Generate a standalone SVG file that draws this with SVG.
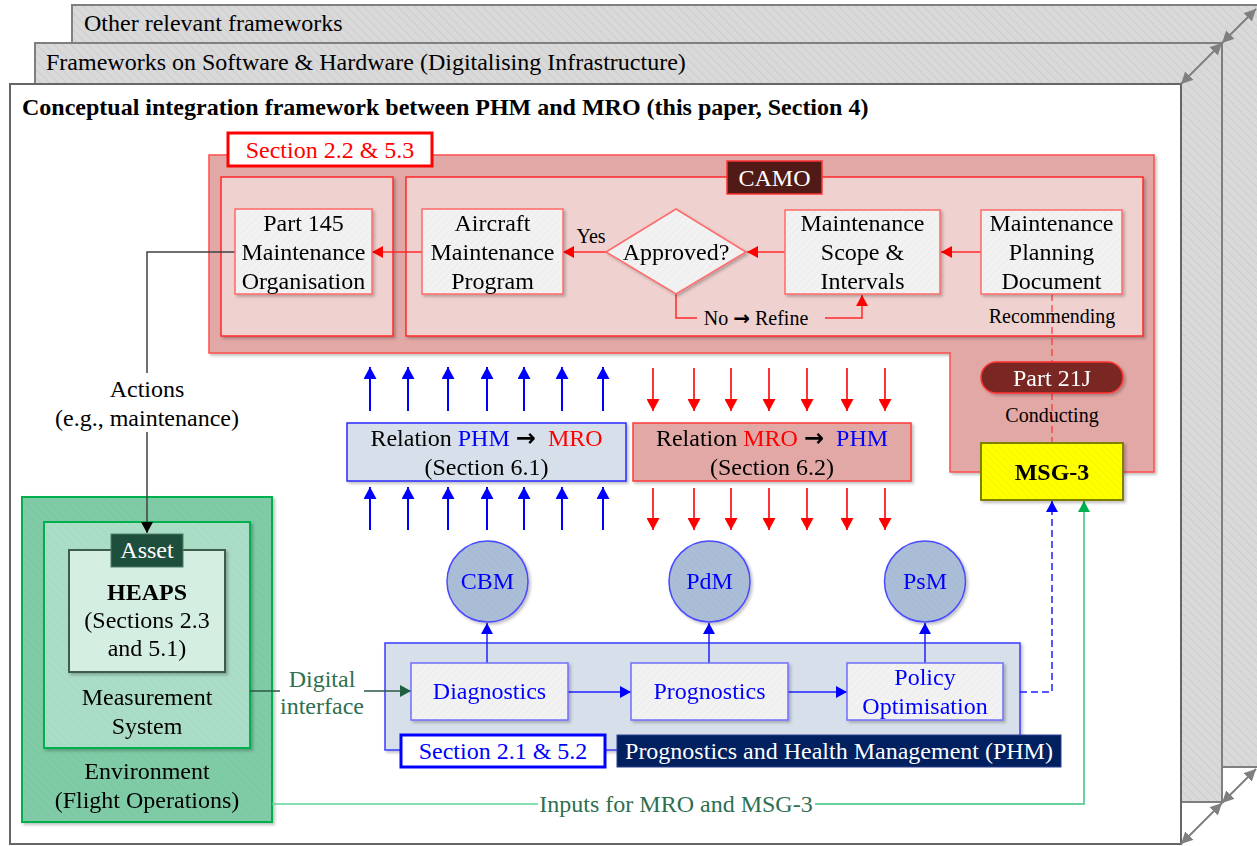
<svg xmlns="http://www.w3.org/2000/svg" width="1257" height="846" viewBox="0 0 1257 846">
<style>
.t{font-family:"Liberation Serif","Times New Roman",serif;font-size:24px;text-anchor:middle;fill:#000}
.st{text-anchor:start}
.s{font-size:20px}
.b{font-weight:bold}
.w{fill:#fff}
.bl{fill:#0000ff}
.rd{fill:#ff0000}
.gt{fill:#2e6f4f}
.ar{font-family:"DejaVu Sans",sans-serif;font-weight:bold;fill:#000}
.node{fill:url(#pNode);stroke:#ff6b6b;stroke-width:1.5}
.pnode{fill:url(#pNode);stroke:#6f6fff;stroke-width:1.5}
.frame{fill:url(#pFrame);stroke:#7f7f7f;stroke-width:2}
.red{fill:none;stroke:#ff2a2a;stroke-width:1.5}
.blue{fill:none;stroke:#2020ff;stroke-width:1.5}
.relb{fill:none;stroke:#0000ff;stroke-width:2}
.relr{fill:none;stroke:#ff0000;stroke-width:1.6}
</style>
<defs>
<pattern id="pFrame" width="6" height="6" patternUnits="userSpaceOnUse" patternTransform="rotate(-45)"><rect width="6" height="6" fill="#d9d9d9"/><line x1="0" y1="0" x2="0" y2="6" stroke="#c6c6c6" stroke-width="1.2"/></pattern>
<pattern id="pNode" width="5" height="5" patternUnits="userSpaceOnUse" patternTransform="rotate(45)"><rect width="5" height="5" fill="#f2f2f2"/><line x1="0" y1="0" x2="0" y2="5" stroke="#e6e6e6" stroke-width="1"/></pattern>
<pattern id="pEnv" width="6" height="6" patternUnits="userSpaceOnUse" patternTransform="rotate(-45)"><rect width="6" height="6" fill="#7dcaa5"/><line x1="0" y1="0" x2="0" y2="6" stroke="#8bd0ae" stroke-width="1.2"/></pattern>
<pattern id="pMeas" width="6" height="6" patternUnits="userSpaceOnUse" patternTransform="rotate(-45)"><rect width="6" height="6" fill="#a8dcc4"/><line x1="0" y1="0" x2="0" y2="6" stroke="#b5e2cd" stroke-width="1.2"/></pattern>
<pattern id="pYel" width="5" height="5" patternUnits="userSpaceOnUse" patternTransform="rotate(-45)"><rect width="5" height="5" fill="#ffff00"/><line x1="0" y1="0" x2="0" y2="5" stroke="#eded00" stroke-width="1"/></pattern>
<pattern id="pCirc" width="5" height="5" patternUnits="userSpaceOnUse" patternTransform="rotate(-45)"><rect width="5" height="5" fill="#a9bcd6"/><line x1="0" y1="0" x2="0" y2="5" stroke="#b3c4db" stroke-width="1"/></pattern>
<filter id="sh" x="-10%" y="-10%" width="130%" height="130%"><feDropShadow dx="2" dy="2" stdDeviation="1.5" flood-color="#000" flood-opacity="0.25"/></filter>
<marker id="aR" markerUnits="userSpaceOnUse" markerWidth="11" markerHeight="12" refX="11" refY="6" orient="auto"><path d="M0,0 L11,6 L0,12 z" fill="#ff0000"/></marker>
<marker id="aB" markerUnits="userSpaceOnUse" markerWidth="11" markerHeight="12" refX="11" refY="6" orient="auto"><path d="M0,0 L11,6 L0,12 z" fill="#0000ff"/></marker>
<marker id="aRB" markerUnits="userSpaceOnUse" markerWidth="12" markerHeight="13" refX="12" refY="6.5" orient="auto"><path d="M0,0 L12,6.5 L0,13 z" fill="#ff0000"/></marker>
<marker id="aBB" markerUnits="userSpaceOnUse" markerWidth="12" markerHeight="13" refX="12" refY="6.5" orient="auto"><path d="M0,0 L12,6.5 L0,13 z" fill="#0000ff"/></marker>
<marker id="aK" markerUnits="userSpaceOnUse" markerWidth="11" markerHeight="12" refX="11" refY="6" orient="auto"><path d="M0,0 L11,6 L0,12 z" fill="#000"/></marker>
<marker id="aDG" markerUnits="userSpaceOnUse" markerWidth="11" markerHeight="12" refX="11" refY="6" orient="auto"><path d="M0,0 L11,6 L0,12 z" fill="#1f5e42"/></marker>
<marker id="aG" markerUnits="userSpaceOnUse" markerWidth="11" markerHeight="12" refX="11" refY="6" orient="auto"><path d="M0,0 L11,6 L0,12 z" fill="#00b050"/></marker>
<marker id="aGr" markerUnits="userSpaceOnUse" markerWidth="12" markerHeight="12" refX="12" refY="6" orient="auto-start-reverse"><path d="M0,0 L12,6 L0,12 z" fill="#7f7f7f"/></marker>
</defs>

<!-- stacked frames -->
<g id="frame-other">
<rect class="frame" x="72" y="5" width="1200" height="762"/>
<text class="t st" x="84" y="31">Other relevant frameworks</text>
</g>
<g id="frame-software">
<rect class="frame" x="35" y="43" width="1187" height="759"/>
<text class="t st" x="46" y="70">Frameworks on Software &amp; Hardware (Digitalising Infrastructure)</text>
</g>
<g id="frame-main">
<rect x="10" y="84" width="1171" height="760" fill="#fff" stroke="#666" stroke-width="2"/>
<text class="t st b" x="22" y="115">Conceptual integration framework between PHM and MRO (this paper, Section 4)</text>
</g>

<!-- containers -->
<g id="mro-region" filter="url(#sh)">
<polygon points="209,155 1154,155 1154,472 950,472 950,353 209,353" fill="#e2a8a5" stroke="#ff4d4d" stroke-width="1.5"/>
</g>
<g id="part145-container" filter="url(#sh)">
<rect x="221" y="177" width="172" height="159" fill="#efd2d0" stroke="#ff2a2a" stroke-width="1.5"/>
</g>
<g id="camo-container" filter="url(#sh)">
<rect x="406" y="177" width="737" height="159" fill="#efd2d0" stroke="#ff2a2a" stroke-width="1.5"/>
</g>
<g id="section-2-2-label">
<rect x="228" y="133" width="204" height="33" fill="#fff" stroke="#ff0000" stroke-width="3"/>
<text class="t rd" x="330" y="158">Section 2.2 &amp; 5.3</text>
</g>
<g id="camo-label">
<rect x="727" y="161" width="95" height="33" fill="#521a17" stroke="#ff3333" stroke-width="1.5"/>
<text class="t w" x="774.5" y="186">CAMO</text>
</g>
<g id="phm-container" filter="url(#sh)">
<rect x="385" y="643" width="635" height="107" fill="#d7e0ea" stroke="#3a3aff" stroke-width="1.5"/>
</g>
<g id="environment" filter="url(#sh)">
<rect x="22" y="497" width="250" height="325" fill="url(#pEnv)" stroke="#00b050" stroke-width="2"/>
<text class="t" x="147" y="779">Environment</text>
<text class="t" x="147" y="808">(Flight Operations)</text>
</g>
<g id="measurement-system" filter="url(#sh)">
<rect x="44" y="522" width="206" height="226" fill="url(#pMeas)" stroke="#00b050" stroke-width="2"/>
<text class="t" x="147" y="705">Measurement</text>
<text class="t" x="147" y="734">System</text>
</g>

<!-- connectors -->
<g id="connectors">
<path class="red" d="M981,252 H941" marker-end="url(#aR)"/>
<path class="red" d="M785,252 H747" marker-end="url(#aR)"/>
<path class="red" d="M606,252 H563" marker-end="url(#aR)"/>
<path class="red" d="M422,252 H372" marker-end="url(#aR)"/>
<path class="red" d="M676,294 V318 H697"/>
<path class="red" d="M825,318 H862 V295" marker-end="url(#aR)"/>
<path d="M1052,294 V443" fill="none" stroke="#ff3333" stroke-width="1.2" stroke-dasharray="7,4"/>
<path d="M235,252 H147 V373" fill="none" stroke="#404040" stroke-width="1.5"/>
<path d="M147,432 V533" fill="none" stroke="#404040" stroke-width="1.5" marker-end="url(#aK)"/>
<g class="relb">
<path d="M370,411 V367" marker-end="url(#aBB)"/>
<path d="M408,411 V367" marker-end="url(#aBB)"/>
<path d="M448,411 V367" marker-end="url(#aBB)"/>
<path d="M487,411 V367" marker-end="url(#aBB)"/>
<path d="M524,411 V367" marker-end="url(#aBB)"/>
<path d="M562,411 V367" marker-end="url(#aBB)"/>
<path d="M603,411 V367" marker-end="url(#aBB)"/>
<path d="M370,530 V487" marker-end="url(#aBB)"/>
<path d="M408,530 V487" marker-end="url(#aBB)"/>
<path d="M448,530 V487" marker-end="url(#aBB)"/>
<path d="M487,530 V487" marker-end="url(#aBB)"/>
<path d="M524,530 V487" marker-end="url(#aBB)"/>
<path d="M562,530 V487" marker-end="url(#aBB)"/>
<path d="M603,530 V487" marker-end="url(#aBB)"/>
</g>
<g class="relr">
<path d="M653,368 V411" marker-end="url(#aRB)"/>
<path d="M694,368 V411" marker-end="url(#aRB)"/>
<path d="M731,368 V411" marker-end="url(#aRB)"/>
<path d="M769,368 V411" marker-end="url(#aRB)"/>
<path d="M807,368 V411" marker-end="url(#aRB)"/>
<path d="M847,368 V411" marker-end="url(#aRB)"/>
<path d="M885,368 V411" marker-end="url(#aRB)"/>
<path d="M653,488 V530" marker-end="url(#aRB)"/>
<path d="M694,488 V530" marker-end="url(#aRB)"/>
<path d="M731,488 V530" marker-end="url(#aRB)"/>
<path d="M769,488 V530" marker-end="url(#aRB)"/>
<path d="M807,488 V530" marker-end="url(#aRB)"/>
<path d="M847,488 V530" marker-end="url(#aRB)"/>
<path d="M885,488 V530" marker-end="url(#aRB)"/>
</g>
<path class="blue" d="M487,663 V623" marker-end="url(#aB)"/>
<path class="blue" d="M709,663 V623" marker-end="url(#aB)"/>
<path class="blue" d="M925,663 V623" marker-end="url(#aB)"/>
<path class="blue" d="M568,692 H631" marker-end="url(#aB)"/>
<path class="blue" d="M788,692 H847" marker-end="url(#aB)"/>
<path d="M1020,692 H1052 V501" fill="none" stroke="#2020ff" stroke-width="1.5" stroke-dasharray="7,4" marker-end="url(#aB)"/>
<path d="M250,691 H280" fill="none" stroke="#2a5a44" stroke-width="1.5"/>
<path d="M364,691 H411" fill="none" stroke="#2a5a44" stroke-width="1.5" marker-end="url(#aDG)"/>
<path d="M272,804 H538" fill="none" stroke="#5cd394" stroke-width="1.5"/>
<path d="M815,804 H1084 V501" fill="none" stroke="#3cc47c" stroke-width="1.5" marker-end="url(#aG)"/>
<path d="M1181,84 L1222,43" fill="none" stroke="#7f7f7f" stroke-width="2" marker-start="url(#aGr)" marker-end="url(#aGr)"/>
<path d="M1222,43 L1256,9" fill="none" stroke="#7f7f7f" stroke-width="2" marker-start="url(#aGr)" marker-end="url(#aGr)"/>
<path d="M1181,844 L1222,803" fill="none" stroke="#7f7f7f" stroke-width="2" marker-start="url(#aGr)" marker-end="url(#aGr)"/>
<path d="M1222,803 L1256,769" fill="none" stroke="#7f7f7f" stroke-width="2" marker-start="url(#aGr)" marker-end="url(#aGr)"/>
<text class="t s" x="591" y="243">Yes</text>
<text class="t s" x="756" y="325">No <tspan class="ar">→</tspan> Refine</text>
<text class="t s" x="1052" y="323">Recommending</text>
<text class="t s" x="1052" y="422">Conducting</text>
<text class="t" x="147" y="397">Actions</text>
<text class="t" x="147" y="426">(e.g., maintenance)</text>
<text class="t gt" x="322" y="687">Digital</text>
<text class="t gt" x="322" y="714">interface</text>
<text class="t gt" x="676" y="812">Inputs for MRO and MSG-3</text>
</g>

<!-- nodes -->
<g id="part145" filter="url(#sh)">
<rect class="node" x="235" y="209" width="137" height="85"/>
<text class="t" x="303.5" y="231">Part 145</text>
<text class="t" x="303.5" y="260">Maintenance</text>
<text class="t" x="303.5" y="289">Organisation</text>
</g>
<g id="amp" filter="url(#sh)">
<rect class="node" x="422" y="209" width="141" height="85"/>
<text class="t" x="492.5" y="231">Aircraft</text>
<text class="t" x="492.5" y="260">Maintenance</text>
<text class="t" x="492.5" y="289">Program</text>
</g>
<g id="approved" filter="url(#sh)">
<polygon class="node" points="606,252 676,209 746,252 676,294"/>
<text class="t" x="676" y="260">Approved?</text>
</g>
<g id="scope" filter="url(#sh)">
<rect class="node" x="785" y="210" width="155" height="84"/>
<text class="t" x="862.5" y="231">Maintenance</text>
<text class="t" x="862.5" y="260">Scope &amp;</text>
<text class="t" x="862.5" y="289">Intervals</text>
</g>
<g id="mpd" filter="url(#sh)">
<rect class="node" x="981" y="210" width="141" height="84"/>
<text class="t" x="1051.5" y="231">Maintenance</text>
<text class="t" x="1051.5" y="260">Planning</text>
<text class="t" x="1051.5" y="289">Document</text>
</g>
<g id="part21j" filter="url(#sh)">
<rect x="981" y="362" width="142" height="31" rx="15.5" fill="#7a2623" stroke="#ff3333" stroke-width="1.5"/>
<text class="t w" x="1052" y="386">Part 21J</text>
</g>
<g id="msg3" filter="url(#sh)">
<rect x="981" y="443" width="142" height="57" fill="url(#pYel)" stroke="#7f7f00" stroke-width="2"/>
<text class="t b" x="1052" y="480">MSG-3</text>
</g>
<g id="relation-phm-mro" filter="url(#sh)">
<rect x="347" y="423" width="279" height="58" fill="#d7e0ea" stroke="#2a2aff" stroke-width="1.5"/>
<text class="t" x="486.5" y="446">Relation <tspan class="bl">PHM</tspan> <tspan class="ar">→</tspan> <tspan class="rd" dx="6">MRO</tspan></text>
<text class="t" x="486.5" y="475">(Section 6.1)</text>
</g>
<g id="relation-mro-phm" filter="url(#sh)">
<rect x="633" y="423" width="278" height="58" fill="#e2a8a5" stroke="#ff3b3b" stroke-width="1.5"/>
<text class="t" x="772" y="446">Relation <tspan class="rd">MRO</tspan> <tspan class="ar">→</tspan> <tspan class="bl" dx="6">PHM</tspan></text>
<text class="t" x="772" y="475">(Section 6.2)</text>
</g>
<g id="cbm" filter="url(#sh)">
<circle cx="487.5" cy="581.5" r="40.5" fill="url(#pCirc)" stroke="#4a4aff" stroke-width="1.5"/>
<text class="t bl" x="487.5" y="589">CBM</text>
</g>
<g id="pdm" filter="url(#sh)">
<circle cx="709.5" cy="581.5" r="40.5" fill="url(#pCirc)" stroke="#4a4aff" stroke-width="1.5"/>
<text class="t bl" x="709.5" y="589">PdM</text>
</g>
<g id="psm" filter="url(#sh)">
<circle cx="925" cy="581.5" r="40.5" fill="url(#pCirc)" stroke="#4a4aff" stroke-width="1.5"/>
<text class="t bl" x="925" y="589">PsM</text>
</g>
<g id="diagnostics" filter="url(#sh)">
<rect class="pnode" x="411" y="663" width="157" height="57"/>
<text class="t bl" x="489.5" y="699">Diagnostics</text>
</g>
<g id="prognostics" filter="url(#sh)">
<rect class="pnode" x="631" y="663" width="157" height="57"/>
<text class="t bl" x="709.5" y="699">Prognostics</text>
</g>
<g id="policy" filter="url(#sh)">
<rect class="pnode" x="847" y="663" width="156" height="57"/>
<text class="t bl" x="925" y="685">Policy</text>
<text class="t bl" x="925" y="714">Optimisation</text>
</g>
<g id="section-2-1-label">
<rect x="401" y="735" width="204" height="32" fill="#fff" stroke="#0000ff" stroke-width="3"/>
<text class="t bl" x="503" y="759">Section 2.1 &amp; 5.2</text>
</g>
<g id="phm-label">
<rect x="617" y="735" width="444" height="32" fill="#002060" stroke="#2a3f8f" stroke-width="1"/>
<text class="t w" x="839" y="759">Prognostics and Health Management (PHM)</text>
</g>
<g id="heaps" filter="url(#sh)">
<rect x="69" y="550" width="156" height="122" fill="#d5eee2" stroke="#3d5c4c" stroke-width="2"/>
<text class="t b" x="147" y="600">HEAPS</text>
<text class="t" x="147" y="628">(Sections 2.3</text>
<text class="t" x="147" y="656">and 5.1)</text>
</g>
<g id="asset">
<rect x="111" y="534" width="72" height="33" fill="#1e4e3c" stroke="#4f7f6a" stroke-width="1"/>
<text class="t w" x="147" y="558">Asset</text>
</g>
</svg>
